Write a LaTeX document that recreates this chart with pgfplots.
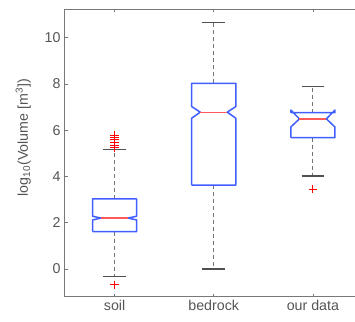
\documentclass[border=0pt]{standalone}
\usepackage{fontspec}
\setmainfont{Liberation Sans}
\usepackage{pgfplots}
\pgfplotsset{compat=1.18}
\definecolor{txtgray}{RGB}{85,85,85}
\definecolor{axgray}{RGB}{120,120,120}
\definecolor{boxblue}{RGB}{65,95,255}
\definecolor{medred}{RGB}{255,90,90}
\definecolor{whgray}{RGB}{115,115,115}
\definecolor{capgray}{RGB}{80,80,80}
\begin{document}
\begin{tikzpicture}
\begin{axis}[
  name=a,
  scale only axis,
  width=297.5bp, height=287.2bp,
  xmin=0.5, xmax=3.5, ymin=-1.2, ymax=11.22,
  axis x line=box, axis y line=left,
  xtick={1,2,3}, xticklabels={soil,bedrock,our data},
  ytick={0,2,4,6,8,10},
  tick align=inside,
  major tick length=3bp,
  axis line style={-, axgray, line width=1bp},
  tick style={axgray, line width=0.8bp},
  /pgf/number format/assume math mode=true,
  tick label style={font=\fontsize{14.3}{16}\selectfont, text=txtgray},
  yticklabel style={xshift=-1bp},
  ylabel={log\textsubscript{10}(Volume [m\textsuperscript{3}])},
  ylabel style={font=\fontsize{14.3}{16}\selectfont, text=txtgray, at={(axis description cs:-0.14,0.554)}, anchor=center},
]
% ---- soil ----
\addplot[whgray, line width=0.9bp, dash pattern=on 4bp off 3bp] coordinates {(1,3.03) (1,5.17)};
\addplot[whgray, line width=0.9bp, dash pattern=on 4bp off 3bp] coordinates {(1,1.61) (1,-0.33)};
\addplot[capgray, line width=1.1bp] coordinates {(0.886,5.17) (1.114,5.17)};
\addplot[capgray, line width=1.1bp] coordinates {(0.886,-0.33) (1.114,-0.33)};
\addplot[boxblue, line width=1.5bp, line join=round] coordinates {(0.778,1.61)(0.778,2.12)(0.864,2.2)(0.778,2.28)(0.778,3.03)(1.222,3.03)(1.222,2.28)(1.136,2.2)(1.222,2.12)(1.222,1.61)(0.778,1.61)};
\addplot[medred, line width=1.3bp] coordinates {(0.864,2.2)(1.136,2.2)};
\addplot[only marks, mark=+, red, mark size=4.2bp, mark options={line width=1bp}] coordinates {(1,5.25)(1,5.36)(1,5.47)(1,5.58)(1,5.68)(1,5.79)(1,-0.69)};
% ---- bedrock ----
\addplot[whgray, line width=0.9bp, dash pattern=on 4bp off 3bp] coordinates {(2,8.03) (2,10.65)};
\addplot[whgray, line width=0.9bp, dash pattern=on 4bp off 3bp] coordinates {(2,3.63) (2,0.0)};
\addplot[capgray, line width=1.1bp] coordinates {(1.886,10.65) (2.114,10.65)};
\addplot[capgray, line width=1.1bp] coordinates {(1.886,0.0) (2.114,0.0)};
\addplot[boxblue, line width=1.5bp, line join=round] coordinates {(1.778,3.63)(1.778,6.52)(1.864,6.78)(1.778,7.02)(1.778,8.03)(2.222,8.03)(2.222,7.02)(2.136,6.78)(2.222,6.52)(2.222,3.63)(1.778,3.63)};
\addplot[medred, line width=1.3bp] coordinates {(1.864,6.78)(2.136,6.78)};
% ---- our data ----
\addplot[whgray, line width=0.9bp, dash pattern=on 4bp off 3bp] coordinates {(3,6.76) (3,7.88)};
\addplot[whgray, line width=0.9bp, dash pattern=on 4bp off 3bp] coordinates {(3,5.68) (3,4.02)};
\addplot[capgray, line width=1.1bp] coordinates {(2.886,7.88) (3.114,7.88)};
\addplot[capgray, line width=1.1bp] coordinates {(2.886,4.02) (3.114,4.02)};
\addplot[boxblue, line width=1.5bp, line join=round] coordinates {(2.778,5.68)(2.778,6.14)(2.864,6.49)(2.778,6.87)(2.778,6.76)(3.222,6.76)(3.222,6.87)(3.136,6.49)(3.222,6.14)(3.222,5.68)(2.778,5.68)};
\addplot[medred, line width=1.3bp] coordinates {(2.864,6.49)(3.136,6.49)};
\addplot[only marks, mark=+, red, mark size=4.2bp, mark options={line width=1bp}] coordinates {(3,3.45)};
\end{axis}
\pgfresetboundingbox
\path[use as bounding box] ([shift={(-65bp,-25.3bp)}]a.south west) rectangle ([shift={(290bp,296.7bp)}]a.south west);
\end{tikzpicture}
\end{document}
